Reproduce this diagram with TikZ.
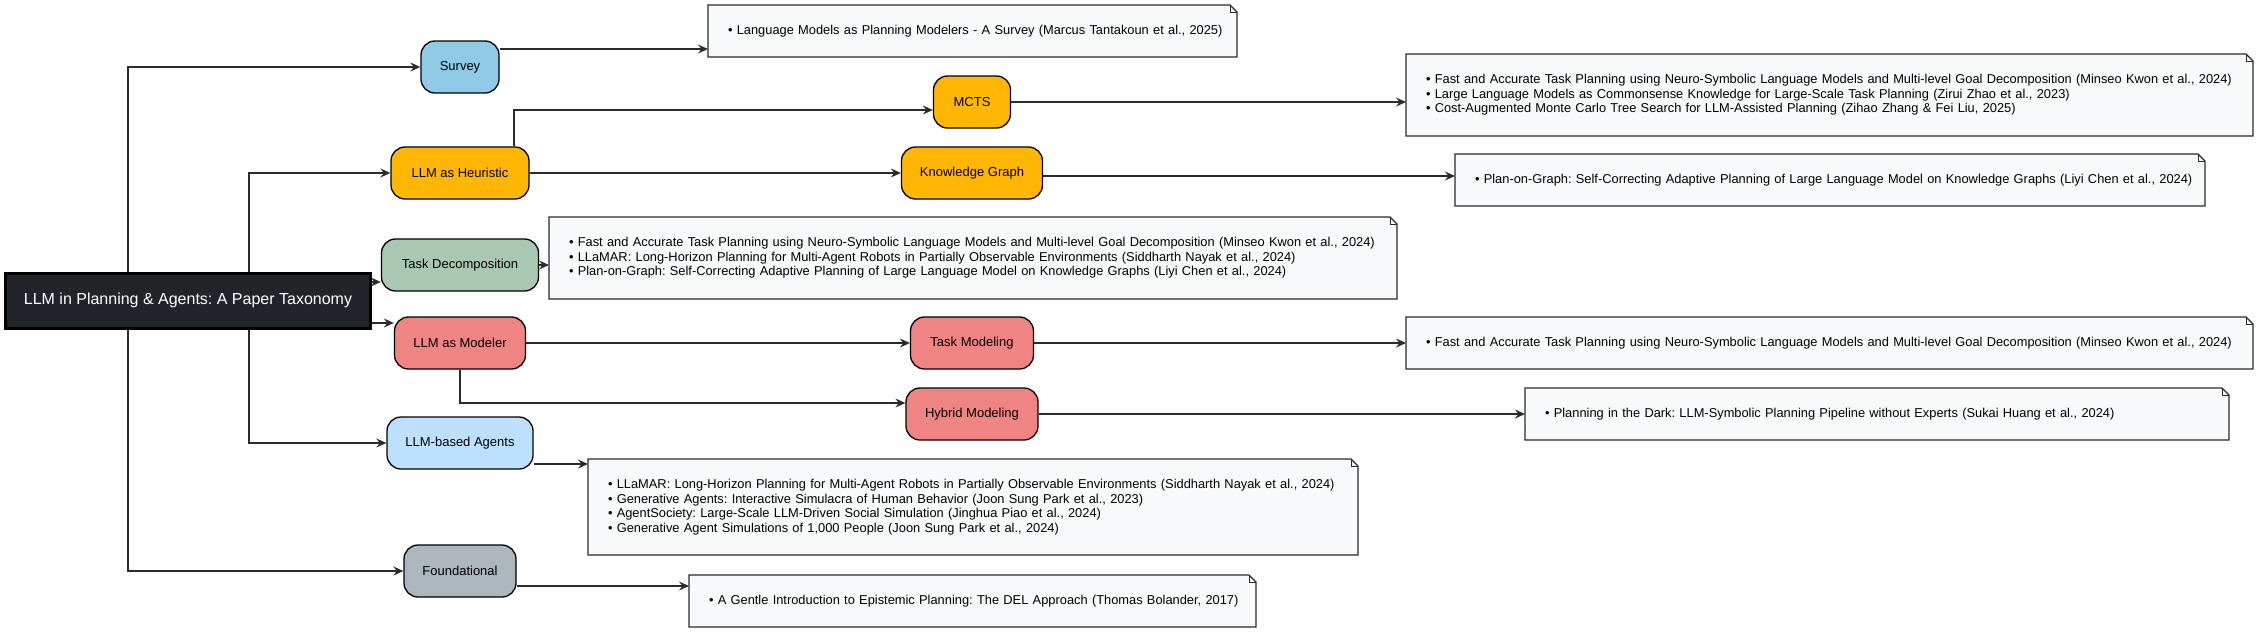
\documentclass[tikz,border=0pt]{standalone}
\usepackage{fontspec}
\setmainfont{Liberation Sans}
\usetikzlibrary{arrows.meta,backgrounds}
\definecolor{rootc}{HTML}{212529}
\definecolor{surveyc}{HTML}{8ECAE6}
\definecolor{heurc}{HTML}{FFB703}
\definecolor{tdc}{HTML}{A9C8B4}
\definecolor{modc}{HTML}{F08482}
\definecolor{agentc}{HTML}{BDE0FE}
\definecolor{foundc}{HTML}{ADB5BD}
\definecolor{notec}{HTML}{F8F9FA}
\definecolor{linec}{HTML}{2B2B2B}
\newcommand\notedraw[1]{%
  \filldraw[fill=notec, draw=linec, line width=1.3pt, line join=miter]
    (#1.north west) -- ([xshift=-7pt]#1.north east) -- ([yshift=-7pt]#1.north east)
    -- (#1.south east) -- (#1.south west) -- cycle;
  \draw[draw=linec, line width=1pt] ([xshift=-7pt]#1.north east) |- ([yshift=-7pt]#1.north east);
}
\newcommand\paperline[1]{\mbox{#1}}
\begin{document}
\frenchspacing
\begin{tikzpicture}[x=1pt,y=-1pt,
  box/.style={draw=black, line width=1.3pt, rounded corners=14pt, minimum height=52pt,
    inner sep=0pt, font=\fontsize{13}{15}\selectfont, text=black},
  rootbox/.style={draw=black, fill=rootc, line width=3pt, minimum height=55pt,
    inner sep=0pt, font=\fontsize{16}{18}\selectfont, text=white},
  note/.style={anchor=north west, inner xsep=20pt, inner ysep=0pt, outer sep=0pt,
    align=left, text width=#1, minimum height=52pt,
    font=\fontsize{12.85}{14.5}\selectfont\frenchspacing},
  conn/.style={draw=linec, line width=1.4pt, -{Stealth[length=10pt,width=9pt,inset=3.5pt]}},
]
\useasboundingbox (0,0) rectangle (2259,632);
% main nodes
\node[rootbox, minimum width=365pt] (root) at (188,300.5) {LLM in Planning \& Agents: A Paper Taxonomy};
\node[box, fill=surveyc, minimum width=78pt] (survey) at (460,67) {Survey};
\node[box, fill=heurc, minimum width=138pt] (heur) at (460,173) {LLM as Heuristic};
\node[box, fill=tdc, minimum width=157pt] (td) at (460,265) {Task Decomposition};
\node[box, fill=modc, minimum width=131pt] (mod) at (460,343) {LLM as Modeler};
\node[box, fill=agentc, minimum width=146pt] (agents) at (460,443) {LLM-based Agents};
\node[box, fill=foundc, minimum width=112pt] (found) at (460,571) {Foundational};
\node[box, fill=heurc, minimum width=77pt] (mcts) at (972,102) {MCTS};
\node[box, fill=heurc, minimum width=141pt] (kg) at (972,173) {Knowledge Graph};
\node[box, fill=modc, minimum width=123pt] (tm) at (972,343) {Task Modeling};
\node[box, fill=modc, minimum width=132pt] (hyb) at (972,414) {Hybrid Modeling};
% notes
\node[note=489pt] (nsurvey) at (708,5)
  {\paperline{• Language Models as Planning Modelers - A Survey (Marcus Tantakoun et al., 2025)}};
\node[note=807pt, minimum height=82pt] (nmcts) at (1406,54)
  {\paperline{• Fast and Accurate Task Planning using Neuro-Symbolic Language Models and Multi-level Goal Decomposition (Minseo Kwon et al., 2024)}\\
   \paperline{• Large Language Models as Commonsense Knowledge for Large-Scale Task Planning (Zirui Zhao et al., 2023)}\\
   \paperline{• Cost-Augmented Monte Carlo Tree Search for LLM-Assisted Planning (Zihao Zhang \& Fei Liu, 2025)}};
\node[note=710pt] (nkg) at (1455,154)
  {\paperline{• Plan-on-Graph: Self-Correcting Adaptive Planning of Large Language Model on Knowledge Graphs (Liyi Chen et al., 2024)}};
\node[note=808pt, minimum height=82pt] (ntd) at (549,217)
  {\paperline{• Fast and Accurate Task Planning using Neuro-Symbolic Language Models and Multi-level Goal Decomposition (Minseo Kwon et al., 2024)}\\
   \paperline{• LLaMAR: Long-Horizon Planning for Multi-Agent Robots in Partially Observable Environments (Siddharth Nayak et al., 2024)}\\
   \paperline{• Plan-on-Graph: Self-Correcting Adaptive Planning of Large Language Model on Knowledge Graphs (Liyi Chen et al., 2024)}};
\node[note=807pt] (ntm) at (1406,317)
  {\paperline{• Fast and Accurate Task Planning using Neuro-Symbolic Language Models and Multi-level Goal Decomposition (Minseo Kwon et al., 2024)}};
\node[note=664pt] (nhyb) at (1525,388)
  {\paperline{• Planning in the Dark: LLM-Symbolic Planning Pipeline without Experts (Sukai Huang et al., 2024)}};
\node[note=730pt, minimum height=96pt] (nag) at (588,459)
  {\paperline{• LLaMAR: Long-Horizon Planning for Multi-Agent Robots in Partially Observable Environments (Siddharth Nayak et al., 2024)}\\
   \paperline{• Generative Agents: Interactive Simulacra of Human Behavior (Joon Sung Park et al., 2023)}\\
   \paperline{• AgentSociety: Large-Scale LLM-Driven Social Simulation (Jinghua Piao et al., 2024)}\\
   \paperline{• Generative Agent Simulations of 1,000 People (Joon Sung Park et al., 2024)}};
\node[note=527pt] (nfound) at (689,575)
  {\paperline{• A Gentle Introduction to Epistemic Planning: The DEL Approach (Thomas Bolander, 2017)}};
\begin{scope}[on background layer]
  \notedraw{nsurvey}\notedraw{nmcts}\notedraw{nkg}\notedraw{ntd}
  \notedraw{ntm}\notedraw{nhyb}\notedraw{nag}\notedraw{nfound}
\end{scope}
% helper coordinates
\coordinate (tA) at (128,0);
\coordinate (tB) at (249,0);
\coordinate (xH) at (514,0);
\coordinate (yTD) at (0,282);
\coordinate (yMod) at (0,323);
\coordinate (ySv) at (0,49);
\coordinate (yM) at (0,110);
\coordinate (yHy) at (0,403);
\coordinate (yAg) at (0,464);
\coordinate (yFn) at (0,586);
\coordinate (yKn) at (0,176);
% connectors
\draw[conn] (root.north -| tA) |- (survey.west);
\draw[conn] (root.north -| tB) |- (heur.west);
\draw[conn] (root.east |- yTD) -- (td.west |- yTD);
\draw[conn] (root.east |- yMod) -- (mod.west |- yMod);
\draw[conn] (root.south -| tB) |- (agents.west);
\draw[conn] (root.south -| tA) |- (found.west);
\draw[conn] (survey.east |- ySv) -- (nsurvey.west |- ySv);
\draw[conn] (heur.north -| xH) |- (mcts.west |- yM);
\draw[conn] (heur.east) -- (kg.west);
\draw[conn] (td.east) -- (ntd.west |- td.east);
\draw[conn] (mod.east) -- (tm.west);
\draw[conn] (mod.south) |- (hyb.west |- yHy);
\draw[conn] (agents.east |- yAg) -- (nag.west |- yAg);
\draw[conn] (found.east |- yFn) -- (nfound.west |- yFn);
\draw[conn] (mcts.east) -- (nmcts.west |- mcts.east);
\draw[conn] (kg.east |- yKn) -- (nkg.west |- yKn);
\draw[conn] (tm.east) -- (ntm.west |- tm.east);
\draw[conn] (hyb.east) -- (nhyb.west |- hyb.east);
\end{tikzpicture}
\end{document}
